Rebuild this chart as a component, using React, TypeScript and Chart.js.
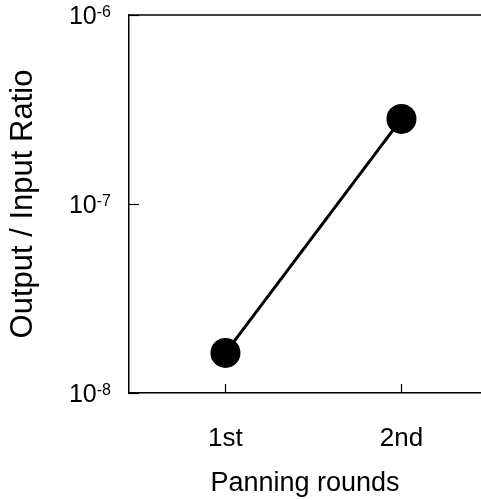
import React, { useEffect, useRef } from "react";
import { Chart, registerables } from "chart.js";

Chart.register(...registerables);

const categories = ["1st", "2nd"];
const xPositions = [1, 2];
const ratios = [1.63e-8, 2.82e-7];
const yTickValues = [1e-8, 1e-7, 1e-6];
const yTickExponents = ["-8", "-7", "-6"];
const xTitle = "Panning rounds";
const yTitle = "Output / Input Ratio";

const FONT = "'Liberation Sans', Arial, sans-serif";

const decorPlugin = {
  id: "decor",
  afterDraw(chart: any) {
    const { ctx, chartArea, scales } = chart;
    const x = scales.x;
    const y = scales.y;
    ctx.save();
    ctx.strokeStyle = "#000";
    ctx.lineWidth = 1.5;
    // top frame line
    ctx.beginPath();
    ctx.moveTo(chartArea.left, chartArea.top);
    ctx.lineTo(chartArea.right, chartArea.top);
    ctx.stroke();
    // inward y ticks
    ctx.lineWidth = 1.2;
    yTickValues.forEach((v) => {
      const py = Math.round(y.getPixelForValue(v)) + 0.5;
      ctx.beginPath();
      ctx.moveTo(chartArea.left, py);
      ctx.lineTo(chartArea.left + 10, py);
      ctx.stroke();
    });
    // inward x ticks
    xPositions.forEach((v) => {
      const px = Math.round(x.getPixelForValue(v)) + 0.5;
      ctx.beginPath();
      ctx.moveTo(px, chartArea.bottom);
      ctx.lineTo(px, chartArea.bottom - 9);
      ctx.stroke();
    });
    // y tick labels with superscript exponents
    ctx.fillStyle = "#000";
    ctx.textBaseline = "alphabetic";
    const rightEdge = chartArea.left - 18;
    yTickValues.forEach((v, i) => {
      const py = y.getPixelForValue(v);
      ctx.font = `16px ${FONT}`;
      const exp = yTickExponents[i];
      const expW = ctx.measureText(exp).width;
      ctx.textAlign = "left";
      ctx.fillText(exp, rightEdge - expW, py + 2);
      ctx.font = `25px ${FONT}`;
      ctx.textAlign = "right";
      ctx.fillText("10", rightEdge - expW, py + 9);
    });
    ctx.restore();
  },
};

export default function App() {
  const canvasRef = useRef<HTMLCanvasElement | null>(null);

  useEffect(() => {
    if (!canvasRef.current) return;
    const chart = new Chart(canvasRef.current, {
      type: "line",
      data: {
        datasets: [
          {
            data: xPositions.map((xv, i) => ({ x: xv, y: ratios[i] })),
            borderColor: "#000",
            backgroundColor: "#000",
            borderWidth: 3,
            pointRadius: 15,
            pointHoverRadius: 15,
            pointBackgroundColor: "#000",
            pointBorderColor: "#000",
            pointBorderWidth: 0,
            tension: 0,
            clip: false,
          },
        ],
      },
      options: {
        animation: false,
        responsive: false,
        maintainAspectRatio: false,
        devicePixelRatio: 1,
        layout: { autoPadding: false, padding: { top: 15, left: 0, right: 0, bottom: 0 } },
        plugins: {
          legend: { display: false },
          tooltip: { enabled: false },
        },
        scales: {
          x: {
            type: "linear",
            min: 0.452,
            max: 2.452,
            grid: { display: false, drawTicks: false },
            border: { display: true, color: "#000", width: 1.5 },
            afterBuildTicks: (scale: any) => {
              scale.ticks = xPositions.map((v) => ({ value: v }));
            },
            afterFit: (scale: any) => {
              scale.height = 107;
              scale.paddingLeft = 0;
              scale.paddingRight = 0;
            },
            ticks: {
              color: "#000",
              padding: 30,
              maxRotation: 0,
              font: { family: FONT, size: 26 },
              callback: (value: any) => categories[xPositions.indexOf(value)] ?? "",
            },
            title: {
              display: true,
              text: xTitle,
              color: "#000",
              font: { family: FONT, size: 27 },
              padding: { top: 0, bottom: 0 },
            },
          },
          y: {
            type: "logarithmic",
            min: 1e-8,
            max: 1e-6,
            grid: { display: false, drawTicks: false },
            border: { display: true, color: "#000", width: 1.5 },
            afterBuildTicks: (scale: any) => {
              scale.ticks = yTickValues.map((v) => ({ value: v }));
            },
            afterFit: (scale: any) => {
              scale.width = 129;
              scale.paddingTop = 0;
              scale.paddingBottom = 0;
            },
            ticks: { display: false },
            title: {
              display: true,
              text: yTitle,
              color: "#000",
              font: { family: FONT, size: 31 },
              padding: { top: 5, bottom: 0 },
            },
          },
        },
      },
      plugins: [decorPlugin],
    });
    return () => chart.destroy();
  }, []);

  return (
    <div style={{ position: "absolute", left: 0, top: 0, width: 481, height: 500, overflow: "hidden", background: "#fff" }}>
      <canvas ref={canvasRef} width={481} height={500} style={{ display: "block", width: 481, height: 500 }} />
    </div>
  );
}
